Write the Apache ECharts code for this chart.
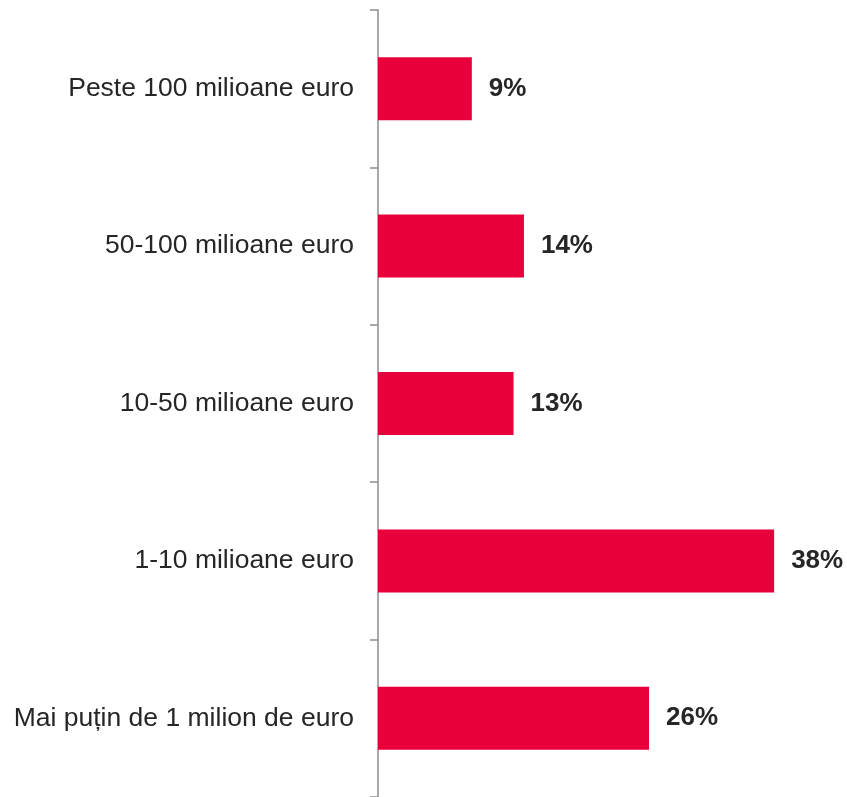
<!DOCTYPE html>
<html>
<head>
<meta charset="utf-8">
<script src="https://cdn.jsdelivr.net/npm/echarts@6/dist/echarts.min.js"></script>
<style>
html,body{margin:0;padding:0;background:#fff;}
#chart{width:847px;height:797px;}
</style>
</head>
<body>
<div id="chart"></div>
<script>
const categories = [
  'Peste 100 milioane euro',
  '50-100 milioane euro',
  '10-50 milioane euro',
  '1-10 milioane euro',
  'Mai puțin de 1 milion de euro'
];
const values = [9, 14, 13, 38, 26];

const chart = echarts.init(document.getElementById('chart'), null, {renderer: 'canvas'});
chart.setOption({
  animation: false,
  grid: {left: 378, top: 10, width: 417, height: 791, containLabel: false},
  xAxis: {type: 'value', min: 0, max: 40, show: false},
  yAxis: {
    type: 'category',
    data: categories,
    inverse: true,
    axisLine: {show: true, lineStyle: {color: '#8c8c8c', width: 1.5}},
    axisTick: {show: true, length: 8, lineStyle: {color: '#8c8c8c', width: 1.5}},
    axisLabel: {
      margin: 24,
      color: '#262626',
      fontFamily: 'Liberation Sans, Arial, sans-serif',
      fontSize: 26.5
    },
    splitLine: {show: false}
  },
  series: [{
    type: 'bar',
    data: values,
    barWidth: '40%',
    itemStyle: {color: '#e8003d'},
    label: {
      show: true,
      position: 'right',
      distance: 17,
      formatter: '{c}%',
      color: '#262626',
      fontFamily: 'Liberation Sans, Arial, sans-serif',
      fontWeight: 'bold',
      fontSize: 26
    }
  }]
});
</script>
</body>
</html>
